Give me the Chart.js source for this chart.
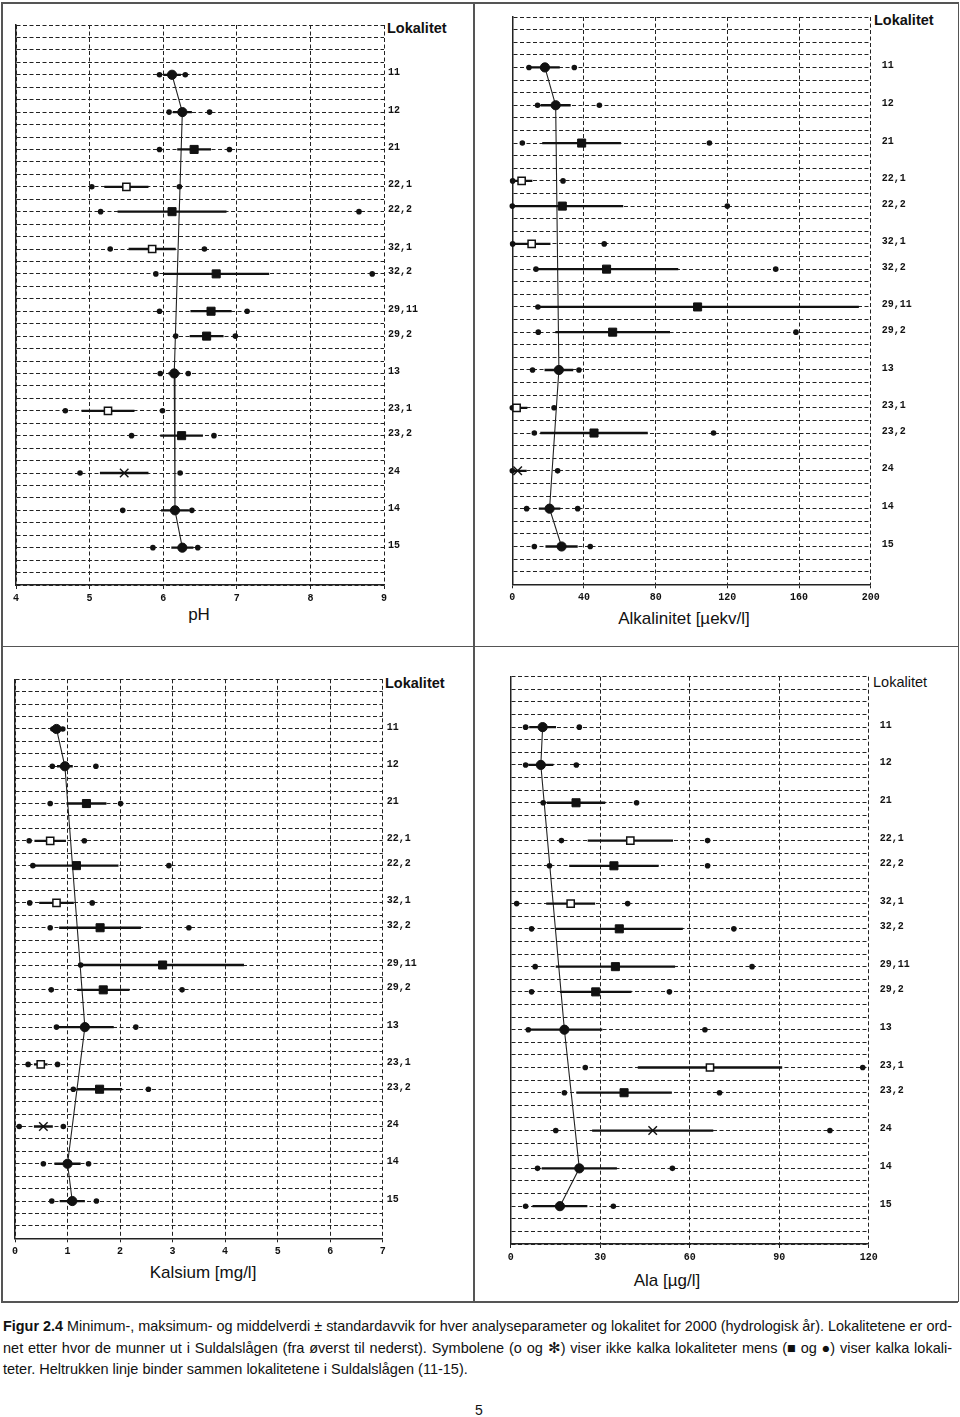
<!DOCTYPE html>
<html>
<head>
<meta charset="utf-8">
<script src="https://cdn.jsdelivr.net/npm/chart.js@4.4.1/dist/chart.umd.min.js"></script>
<style>
  html,body{margin:0;padding:0;background:#fff;}
  body{width:960px;height:1417px;position:relative;overflow:hidden;font-family:"Liberation Sans",Arial,sans-serif;color:#111;}
  .fr{position:absolute;background:#555;}
  canvas{position:absolute;}
  .txt{position:absolute;white-space:nowrap;line-height:16px;}
  .ttl{position:absolute;white-space:nowrap;font-size:17px;line-height:20px;transform:translate(-50%,-50%);}
  .cap{position:absolute;left:3px;white-space:nowrap;font-size:14.5px;line-height:21.5px;}
</style>
</head>
<body>
<!-- frame -->
<div class="fr" style="left:1px;top:2px;width:957px;height:1.5px"></div>
<div class="fr" style="left:1px;top:1301px;width:957px;height:1.5px"></div>
<div class="fr" style="left:1px;top:2px;width:1.5px;height:1300px"></div>
<div class="fr" style="left:957.5px;top:2px;width:1.5px;height:1300px"></div>
<div class="fr" style="left:473px;top:2px;width:1.5px;height:1300px"></div>
<div class="fr" style="left:1px;top:645.5px;width:957px;height:1.5px"></div>

<div class="txt" style="left:387px;top:20px;font-size:14.5px;font-weight:bold">Lokalitet</div>
<div class="txt" style="left:874px;top:12px;font-size:14.5px;font-weight:bold">Lokalitet</div>
<div class="txt" style="left:385px;top:675px;font-size:14.5px;font-weight:bold">Lokalitet</div>
<div class="txt" style="left:873px;top:674px;font-size:14.5px;">Lokalitet</div>

<div class="ttl" style="left:199px;top:615px">pH</div>
<div class="ttl" style="left:684px;top:619px">Alkalinitet [µekv/l]</div>
<div class="ttl" style="left:203px;top:1273px">Kalsium [mg/l]</div>
<div class="ttl" style="left:667px;top:1281px">Ala [µg/l]</div>

<div class="cap" data-j="1" style="top:1316px"><span><b>Figur 2.4</b> Minimum-, maksimum- og middelverdi ± standardavvik for hver analyseparameter og lokalitet for 2000 (hydrologisk år). Lokalitetene er ord-</span></div>
<div class="cap" data-j="1" style="top:1337.5px"><span>net etter hvor de munner ut i Suldalslågen (fra øverst til nederst). Symbolene (o og ✻) viser ikke kalka lokaliteter mens (■ og ●) viser kalka lokali-</span></div>
<div class="cap" data-j="0" style="top:1359px"><span>teter. Heltrukken linje binder sammen lokalitetene i Suldalslågen (11-15).</span></div>
<div class="txt" style="left:475px;top:1402px;font-size:14px">5</div>

<script>
// ---------------- data ----------------
const localities = ['11','12','21','22,1','22,2','32,1','32,2','29,11','29,2','13','23,1','23,2','24','14','15'];
// group of each locality: main river (Suldalslågen), limed (kalka), not limed (ikke kalka), not limed (✻)
const groups = ['hoved','hoved','kalka','ikke kalka','kalka','ikke kalka','kalka','kalka','kalka','hoved','ikke kalka','kalka','ikke kalka ✻','hoved','hoved'];
const stemLocalities = ['11','12','13','14','15'];
// y tick labels (one slot per grid row, top to bottom)
const rowSlots = ['','','','','11','','','12','','','21','','','22,1','','22,2','','','32,1','','32,2','','','29,11','','29,2','','','13','','','23,1','','23,2','','','24','','','14','','','15','','',''];

// pH
const phTicks = [4, 9, 1];
const phMin  = [5.95,6.08,5.95,5.03,5.15,5.28,5.90,5.95,6.17,5.96,4.67,5.57,4.87,5.45,5.86];
const phMean = [6.12,6.26,6.42,5.50,6.12,5.85,6.72,6.65,6.59,6.15,5.25,6.25,5.47,6.16,6.26];
const phSd   = [0.12,0.13,0.23,0.30,0.74,0.32,0.72,0.28,0.23,0.08,0.36,0.29,0.33,0.19,0.15];
const phMax  = [6.30,6.63,6.90,6.22,8.66,6.56,8.84,7.14,6.98,6.34,5.99,6.69,6.23,6.39,6.47];

// Alkalinitet [µekv/l]
const alkTicks = [0, 200, 40];
const alkMin  = [9.3,14.1,5.6,0.2,0,0.2,13.2,14.3,14.5,11.3,0,12.3,0,8,12.3];
const alkMean = [18.2,24.2,38.7,5.2,27.9,10.8,52.6,103.4,56,26,2.4,45.6,3,20.8,27.5];
const alkSd   = [8.3,8.4,22,6,34,10.5,40,90,32,8,6,30,5,6,9];
const alkMax  = [34.6,48.6,110,28.3,120,51.3,147,null,158.3,37.2,23.3,112.3,25.3,36.5,43.5];

// Kalsium [mg/l]
const caTicks = [0, 7, 1];
const caMin  = [0.72,0.71,0.67,0.27,0.34,0.28,0.67,1.25,0.69,0.79,0.25,1.11,0.08,0.54,0.70];
const caMean = [0.79,0.95,1.36,0.67,1.17,0.79,1.62,2.81,1.68,1.33,0.49,1.61,0.54,1.00,1.09];
const caSd   = [0.05,0.15,0.38,0.30,0.80,0.33,0.78,1.55,0.50,0.55,0.13,0.43,0.18,0.25,0.24];
const caMax  = [0.91,1.54,2.01,1.32,2.93,1.47,3.31,null,3.18,2.30,0.81,2.54,0.92,1.40,1.55];

// Ala [µg/l]
const alaTicks = [0, 120, 30];
const alaMin  = [5.0,5.0,10.9,17,13,2,7,8.2,7,5.9,25,18,15.1,9,5];
const alaMean = [10.7,10.1,21.9,40.1,34.6,20.1,36.4,35.1,28.5,18,66.8,38,47.6,23,16.5];
const alaSd   = [4.5,4.2,9.8,14.3,15,8.2,21.3,20,12,12.7,24.2,16,20.3,12.6,9.2];
const alaMax  = [23,22,42.2,66,66,39.2,74.8,80.9,53.2,65.1,118,70,107,54.2,34.4];

// ---------------- styling / layout ----------------
const INK = '#111';
const GRID = '#222';
const monoFont = {family:'"Liberation Mono","DejaVu Sans Mono",monospace', size:10, weight:'bold'};

function markerStyle(g){
  if (g === 'hoved') return {style:'circle', bg:INK, r:4.6, bw:1};
  if (g === 'kalka') return {style:'rect', bg:INK, r:5.7, bw:1};
  if (g === 'ikke kalka') return {style:'rect', bg:'#fff', r:5.1, bw:1.5};
  return {style:'crossRot', bg:INK, r:6, bw:1.4};
}

function makePanel(p){
  const cv = document.createElement('canvas');
  cv.width = p.w; cv.height = p.h;
  cv.style.left = p.left + 'px'; cv.style.top = p.top + 'px';
  cv.style.width = p.w + 'px'; cv.style.height = p.h + 'px';
  document.body.appendChild(cv);

  const sdData = [];
  localities.forEach((loc, i) => {
    sdData.push({x: p.mean[i] - p.sd[i], y: loc});
    sdData.push({x: p.mean[i] + p.sd[i], y: loc});
    sdData.push({x: null, y: null});
  });
  const extremes = [];
  localities.forEach((loc, i) => {
    if (p.min[i] != null) extremes.push({x: p.min[i], y: loc});
    if (p.max[i] != null) extremes.push({x: p.max[i], y: loc});
  });
  const meanData = localities.map((loc, i) => ({x: p.mean[i], y: loc}));
  const stemData = stemLocalities.map(loc => ({x: p.mean[localities.indexOf(loc)], y: loc}));
  const ms = groups.map(markerStyle);

  new Chart(cv, {
    type: 'line',
    data: {
      datasets: [
        {label:'middel', data: meanData, showLine:false, order:0, clip:false,
         pointStyle: ms.map(m=>m.style), pointRadius: ms.map(m=>m.r), pointBackgroundColor: ms.map(m=>m.bg),
         pointBorderColor: INK, pointBorderWidth: ms.map(m=>m.bw), pointHoverRadius: ms.map(m=>m.r)},
        {label:'min/maks', data: extremes, showLine:false, order:1, clip:false,
         pointStyle:'circle', pointRadius:2.8, pointBackgroundColor:INK, pointBorderColor:INK, pointBorderWidth:0},
        {label:'standardavvik', data: sdData, order:2, spanGaps:false, borderColor:INK, borderWidth:2.3,
         pointRadius:0, tension:0},
        {label:'Suldalslågen', data: stemData, order:3, borderColor:'#222', borderWidth:1.1,
         pointRadius:0, tension:0}
      ]
    },
    options: {
      responsive:false, animation:false, devicePixelRatio:1,
      events: [],
      layout: {padding: {left:p.area.l, top:p.area.t, right:p.w - p.area.r - p.labelW, bottom:p.h - p.area.b - p.xH}},
      plugins: {legend:{display:false}, tooltip:{enabled:false}},
      scales: {
        x: {
          type:'linear', position:'bottom', min:p.ticks[0], max:p.ticks[1],
          ticks:{stepSize:p.ticks[2], font:monoFont, color:INK, padding:3, maxRotation:0, autoSkip:false},
          grid:{color:GRID, lineWidth:1, tickLength:4, tickColor:'#222', tickWidth:1},
          border:{display:true, color:'#222', width:1.5, dash:[4,2.5]},
          afterFit(s){ s.height = p.xH; }
        },
        y: {
          type:'category', labels: rowSlots.slice(), position:'left',
          ticks:{display:false, autoSkip:false},
          grid:{color:GRID, lineWidth:1, drawTicks:false},
          border:{display:true, color:'#222', width:1.5, dash:[4,2.5]},
          afterFit(s){ s.width = 0; }
        },
        y2: {
          type:'category', labels: rowSlots.slice(), position:'right',
          ticks:{autoSkip:false, font:monoFont, color:INK, padding:p.labelPad, labelOffset:-2},
          grid:{display:false, drawTicks:false},
          border:{display:false},
          afterFit(s){ s.width = p.labelW; }
        }
      }
    }
  });
}

makePanel({left:0, top:0, w:473, h:646, area:{l:16, t:25, r:384, b:585}, labelW:80, labelPad:4, xH:30,
  ticks:phTicks, min:phMin, mean:phMean, sd:phSd, max:phMax});
makePanel({left:474, top:0, w:484, h:646, area:{l:38.3, t:15.7, r:396.7, b:584.3}, labelW:80, labelPad:11, xH:30,
  ticks:alkTicks, min:alkMin, mean:alkMean, sd:alkSd, max:alkMax});
makePanel({left:0, top:646, w:473, h:656, area:{l:15, t:33.3, r:382.7, b:592.3}, labelW:80, labelPad:4, xH:30,
  ticks:caTicks, min:caMin, mean:caMean, sd:caSd, max:caMax});
makePanel({left:474, top:646, w:484, h:656, area:{l:36.7, t:30.7, r:394.7, b:598}, labelW:80, labelPad:11, xH:30,
  ticks:alaTicks, min:alaMin, mean:alaMean, sd:alaSd, max:alaMax});

// caption justification
document.querySelectorAll('.cap').forEach(el => {
  const span = el.firstElementChild;
  span.style.display = 'inline-block';
  const W = 949;
  const w = span.getBoundingClientRect().width;
  if (w > W) {
    span.style.transformOrigin = '0 0';
    span.style.transform = 'scaleX(' + (W / w) + ')';
  } else if (el.dataset.j === '1') {
    const n = (span.textContent.match(/ /g) || []).length;
    span.style.wordSpacing = ((W - w) / n) + 'px';
  }
});
</script>
</body>
</html>
